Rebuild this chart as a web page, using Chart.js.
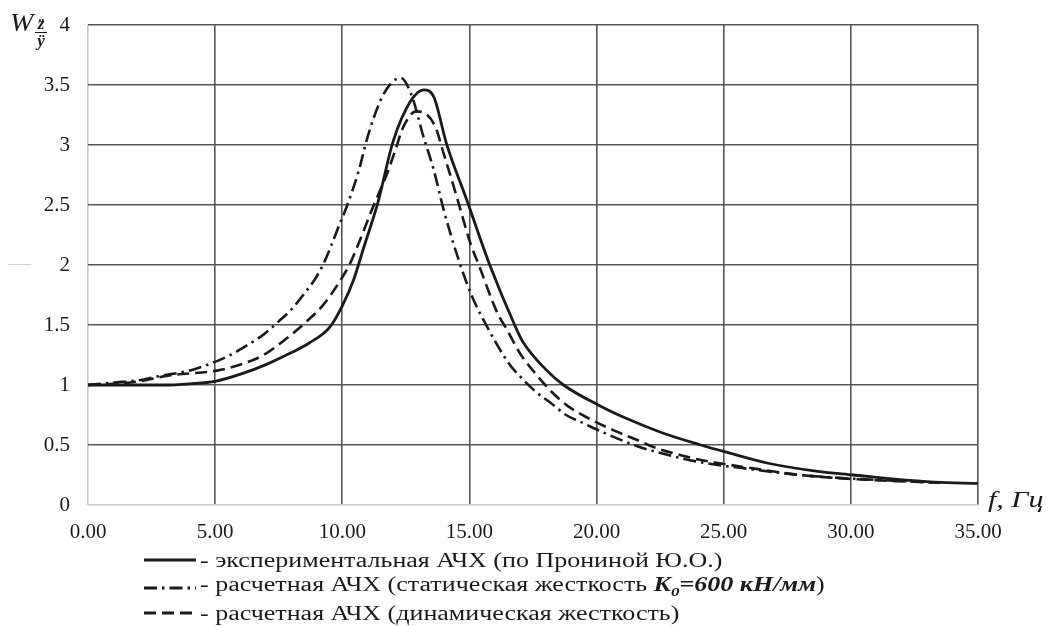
<!DOCTYPE html>
<html>
<head>
<meta charset="utf-8">
<script src="https://cdn.jsdelivr.net/npm/chart.js@4"></script>
<style>
  html,body{margin:0;padding:0;background:#fff;}
  #wrap{position:relative;width:1055px;height:626px;overflow:hidden;font-family:"Liberation Serif","Times New Roman",serif;color:#1a1a1a;}
  #c{position:absolute;left:0;top:0;}
  .lbl{position:absolute;white-space:nowrap;}
  .leg{position:absolute;left:143px;height:26px;font-size:20px;line-height:26px;white-space:nowrap;display:flex;align-items:center;}
  .leg svg{margin-right:3px;flex:none;}
  .leg span{display:inline-block;transform:scaleX(1.3);transform-origin:0 50%;}
</style>
</head>
<body>
<div id="wrap">
  <canvas id="c" width="1055" height="626"></canvas>
  <div class="lbl" style="left:10px;top:10px;font-style:italic;font-size:25px;line-height:25px;transform:scaleX(1.12);transform-origin:0 0;">W</div>
  <div class="lbl" style="left:35px;top:16px;font-style:italic;font-weight:bold;font-size:17px;line-height:16px;text-align:center;width:12px;">
    <div style="border-bottom:1.5px solid #1a1a1a;">z&#776;</div><div>&#255;</div>
  </div>
  <div class="lbl" style="left:988px;top:484px;font-style:italic;font-size:24px;line-height:30px;transform:scaleX(1.25);transform-origin:0 0;">f, Гц</div>
  <div class="lbl" style="left:8px;top:264px;width:23px;height:1px;background:#d0d0d0;"></div>
  <div id="legend"></div>
</div>
<script>
// ---- data ----
const expF = [0,1,2,3,4,5,6,7,8,8.7,9.5,10,10.45,10.85,11.4,12,12.7,13.2,13.6,14.1,14.9,15.8,16.8,17.1,18,18.7,20.1,21.3,22.6,24.1,25.1,26.7,28.7,30.1,31.5,33.3,35];
const expW = [1.0,1.0,1.0,1.0,1.01,1.03,1.09,1.17,1.27,1.35,1.48,1.66,1.88,2.15,2.52,3.03,3.37,3.46,3.40,3.01,2.54,2.0,1.49,1.36,1.13,1.0,0.83,0.71,0.6,0.5,0.44,0.35,0.28,0.25,0.22,0.19,0.18];

const statF = [0,1,2,2.7,4.15,5.6,6.25,6.9,7.5,8.0,8.5,8.95,9.26,9.6,9.8,10.18,10.64,11.0,11.5,11.9,12.3,12.75,13.15,13.6,14.0,14.58,15.1,15.76,16.55,17.0,17.6,18.2,18.8,19.5,20.2,21.6,22.4,24,26,28,30,31.5,33.5];
const statW = [1.0,1.02,1.04,1.07,1.13,1.25,1.33,1.42,1.53,1.63,1.76,1.89,2.01,2.18,2.29,2.49,2.78,3.07,3.37,3.51,3.56,3.4,3.1,2.79,2.45,2.04,1.74,1.46,1.18,1.07,0.945,0.85,0.75,0.68,0.61,0.49,0.44,0.36,0.30,0.25,0.22,0.205,0.185];

const dynF = [0,1,2,3.2,5.07,6.0,6.9,7.82,8.6,9.26,9.86,10.3,10.7,11.2,11.76,12.09,12.4,12.9,13.2,13.66,14.0,14.5,15.04,15.37,16.1,16.48,17.0,17.66,18.2,18.9,19.8,20.7,21.5,22.4,23.6,24.1,26,28,30.66,33.5];
const dynW = [1.0,1.01,1.03,1.08,1.12,1.17,1.25,1.39,1.53,1.67,1.85,2.01,2.21,2.48,2.76,2.96,3.15,3.28,3.27,3.15,2.92,2.57,2.18,2.0,1.6,1.46,1.26,1.08,0.95,0.82,0.71,0.62,0.55,0.47,0.40,0.375,0.31,0.25,0.21,0.185];

const xTickLabels = ["0.00","5.00","10.00","15.00","20.00","25.00","30.00","35.00"];
const yTickLabels = ["0","0.5","1","1.5","2","2.5","3","3.5","4"];

const seriesNames = [
  "- экспериментальная АЧХ (по Прониной Ю.О.)",
  "- расчетная АЧХ (статическая жесткость <b><i>K<sub style=\"font-size:13px\">0</sub>=600 кН/мм</i></b>)",
  "- расчетная АЧХ (динамическая жесткость)"
];

// ---- build ----
const pts = (fs, ws) => fs.map((f, i) => ({x: f, y: ws[i]}));
const INK = '#1a1a1a';
const dashes = [[], [13,5,2.5,5], [12,6]];

const datasets = [
  {data: pts(expF, expW), borderWidth: 2.8},
  {data: pts(statF, statW), borderWidth: 2.6},
  {data: pts(dynF, dynW), borderWidth: 2.6}
].map((d, i) => Object.assign(d, {
  borderColor: INK, borderDash: dashes[i], pointRadius: 0, fill: false,
  cubicInterpolationMode: 'monotone', borderCapStyle: 'butt', borderJoinStyle: 'round'
}));

const gridColor = ctx => (ctx.tick && ctx.tick.value === 0) ? '#c8c8c8' : '#555';
const tickFont = {family: "Liberation Serif", size: 21};

new Chart(document.getElementById('c'), {
  type: 'line',
  data: {datasets},
  options: {
    responsive: false, animation: false, devicePixelRatio: 1,
    layout: {padding: {left: 0, right: 77, top: 25, bottom: 86}},
    plugins: {legend: {display: false}, tooltip: {enabled: false}},
    scales: {
      x: {
        type: 'linear', min: 0, max: 35,
        ticks: {stepSize: 5, padding: 15, color: INK, font: tickFont,
          callback: (v) => xTickLabels[Math.round(v / 5)]},
        grid: {color: gridColor, lineWidth: 1.6, drawTicks: false},
        border: {display: false},
        afterFit: s => { s.height = 35; s.paddingLeft = 0; s.paddingRight = 0; }
      },
      y: {
        min: 0, max: 4,
        ticks: {stepSize: 0.5, padding: 18, color: INK, font: tickFont,
          callback: (v) => yTickLabels[Math.round(v / 0.5)]},
        grid: {color: gridColor, lineWidth: 1.6, drawTicks: false},
        border: {display: false},
        afterFit: s => { s.width = 88; s.paddingTop = 0; s.paddingBottom = 0; }
      }
    }
  }
});

// ---- legend ----
const legTops = [547, 575, 600];
const leg = document.getElementById('legend');
seriesNames.forEach((name, i) => {
  const row = document.createElement('div');
  row.className = 'leg';
  row.style.top = legTops[i] + 'px';
  const da = dashes[i].length ? `stroke-dasharray="${dashes[i].join(' ')}"` : '';
  row.innerHTML = `<svg width="54" height="10"><line x1="1" y1="5" x2="53" y2="5" stroke="${INK}" stroke-width="3" ${da}/></svg><span>${name}</span>`;
  leg.appendChild(row);
});
</script>
</body>
</html>
